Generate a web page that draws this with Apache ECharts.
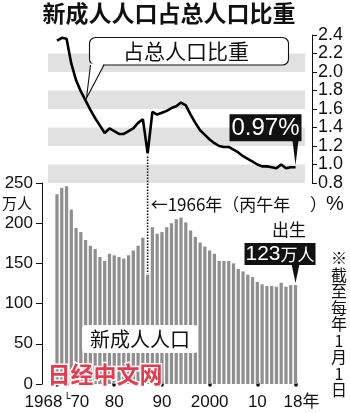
<!DOCTYPE html>
<html><head><meta charset="utf-8">
<script src="https://cdn.jsdelivr.net/npm/echarts@6/dist/echarts.min.js"></script>
<style>html,body{margin:0;padding:0;background:#fff}#c{width:350px;height:413px}</style>
</head><body><div id="c"></div>
<script>
// ---- data ----
const years = ['1968','1969','1970','1971','1972','1973','1974','1975','1976','1977','1978','1979',
  '1980','1981','1982','1983','1984','1985','1986','1987','1988','1989','1990','1991','1992','1993',
  '1994','1995','1996','1997','1998','1999','2000','2001','2002','2003','2004','2005','2006','2007',
  '2008','2009','2010','2011','2012','2013','2014','2015','2016','2017','2018'];
// 新成人人口 (万人)
const newAdults = [236,244,246,217,194,189,179,172,168,158,153,162,
  160,158,156,160,166,172,182,136,195,187,189,195,200,205,
  207,201,191,183,176,171,166,162,153,153,153,150,143,140,
  136,133,127,124,122,122,121,126,121,123,123];
// 占总人口比重 (%)
const share = [2.34,2.37,2.36,2.09,1.91,1.79,1.69,1.59,1.50,1.42,1.34,1.39,
  1.36,1.33,1.33,1.36,1.39,1.45,1.49,1.12,1.57,1.54,1.56,1.58,1.61,1.63,
  1.67,1.64,1.54,1.45,1.37,1.32,1.27,1.23,1.20,1.19,1.19,1.16,1.13,1.09,
  1.06,1.03,1.00,0.98,0.98,0.97,0.96,1.00,0.96,0.97,0.97];
const shareTicks = [0.8,2.4,0.2];     // min, max, step
const adultTicks = [0,250,50];
const labeledYears = {'1968':'1968','1970':'70','1980':'80','1990':'90','2000':'2000','2010':'10','2018':'18年'};
const hinoeumaYear = '1987';
// ---- chart ----
const NUM = 'Liberation Sans, Arial, Noto Sans CJK SC, sans-serif';
const CJK = 'Noto Sans CJK SC, Noto Sans CJK JP, sans-serif';
const chart = echarts.init(document.getElementById('c'), null, {renderer:'canvas'});
const lineData = years.map((y,i)=>[Number(y), share[i]]);
const showIdx = (i)=> labeledYears.hasOwnProperty(years[i]);
chart.setOption({
  animation:false,
  backgroundColor:'#fff',
  grid:[
    {left:48, right:45, top:35, height:148, outerBoundsMode:'none', containLabel:false},
    {left:54.6, right:52.1, top:183, height:201, outerBoundsMode:'none', containLabel:false}
  ],
  xAxis:[
    {type:'value', gridIndex:0, min:1966.11, max:2019.99, show:false},
    {type:'category', gridIndex:1, data:years, offset:4,
      axisLine:{show:false},
      axisTick:{show:true, alignWithLabel:true, length:1, interval:(i)=>showIdx(i),
        lineStyle:{color:'#111', width:3.5, cap:'round'}},
      axisLabel:{show:true, interval:(i)=>showIdx(i), margin:6, color:'#111', fontFamily:NUM, fontSize:17,
        formatter:(v)=>{
          if(v==='1968') return '{l|1968}';
          if(v==='1970') return '{b|└}{r|70}';
          if(v==='2018') return '{e|18年}';
          return labeledYears[v];
        },
        rich:{
          l:{fontFamily:NUM,fontSize:17,color:'#111',padding:[0,27,0,0]},
          b:{fontFamily:'DejaVu Sans',fontSize:11,color:'#111',padding:[0,0,0,20],verticalAlign:'top'},
          r:{fontFamily:NUM,fontSize:17,color:'#111'},
          e:{fontFamily:NUM,fontSize:17,color:'#111',padding:[0,0,0,12]}
        }
      }
    }
  ],
  yAxis:[
    {type:'value', gridIndex:0, position:'right', offset:7, min:shareTicks[0], max:shareTicks[1], interval:shareTicks[2],
      axisLine:{show:true, lineStyle:{color:'#111', width:1}},
      axisTick:{show:true, inside:false, length:5, lineStyle:{color:'#111', width:1}},
      axisLabel:{show:true, margin:6, color:'#111', fontFamily:NUM, fontSize:18, formatter:(v)=>v.toFixed(1)},
      splitLine:{show:false},
      splitArea:{show:true, areaStyle:{color:['#e1e1e1','rgba(255,255,255,0)']}}
    },
    {type:'value', gridIndex:1, position:'left', offset:12.6, min:adultTicks[0], max:adultTicks[1], interval:adultTicks[2],
      axisLine:{show:true, lineStyle:{color:'#111', width:1}},
      axisTick:{show:true, inside:false, length:6, lineStyle:{color:'#111', width:1}},
      axisLabel:{show:true, margin:9, color:'#111', fontFamily:NUM, fontSize:17},
      splitLine:{show:false}
    }
  ],
  series:[
    {type:'bar', xAxisIndex:1, yAxisIndex:1, data:newAdults, barWidth:'68%',
      itemStyle:{color:'#8f8f8f'}, z:2},
    {type:'line', xAxisIndex:0, yAxisIndex:0, data:lineData, showSymbol:false, symbol:'none',
      lineStyle:{color:'#000', width:2.6}, z:3}
  ]
});

// ---- annotations anchored to data ----
const lastShare = share[share.length-1];
const lastAdults = newAdults[newAdults.length-1];
const pL = chart.convertToPixel({xAxisIndex:0, yAxisIndex:0}, [Number(years[years.length-1]), lastShare]);
const pB = chart.convertToPixel({xAxisIndex:1, yAxisIndex:1}, [years[years.length-1], lastAdults]);
const hi = years.indexOf(hinoeumaYear);
const pDipL = chart.convertToPixel({xAxisIndex:0, yAxisIndex:0}, [Number(hinoeumaYear), share[hi]]);
const pDipB = chart.convertToPixel({xAxisIndex:1, yAxisIndex:1}, [hinoeumaYear, newAdults[hi]]);

const g = [];
// title
g.push({type:'text', left:null, x:169, y:13, style:{text:'新成人人口占总人口比重', font:'bold 23px '+CJK, fill:'#111', align:'center', verticalAlign:'middle'}, z:100});
// callout box
g.push({type:'rect', shape:{x:89.5, y:37.5, width:199, height:27.5, r:6}, style:{fill:'#fff', stroke:'#111', lineWidth:1.1}, z:100});
g.push({type:'polygon', shape:{points:[[90.5,63.5],[103.5,63.5],[87,97]]}, style:{fill:'#fff', stroke:null}, z:101});
g.push({type:'polyline', shape:{points:[[90.5,65],[86.5,98],[104,65]]}, style:{fill:null, stroke:'#111', lineWidth:1.1}, z:101});
g.push({type:'text', x:186, y:51.5, style:{text:'占总人口比重', font:'21px '+CJK, fill:'#111', align:'center', verticalAlign:'middle'}, z:102});
// 0.97% label
g.push({type:'rect', shape:{x:pL[0]-66, y:pL[1]-53, width:72, height:27}, style:{fill:'#111'}, z:100});
g.push({type:'polygon', shape:{points:[[pL[0]-3,pL[1]-27],[pL[0]+3,pL[1]-27],[pL[0],pL[1]-2]]}, style:{fill:'#111'}, z:100});
g.push({type:'text', x:pL[0]-30, y:pL[1]-39, style:{text:lastShare.toFixed(2)+'%', font:'24px '+NUM, fill:'#fff', align:'center', verticalAlign:'middle'}, z:101});
// 123万人 label
g.push({type:'rect', shape:{x:pB[0]-51, y:pB[1]-42, width:71, height:22}, style:{fill:'#111'}, z:100});
g.push({type:'polygon', shape:{points:[[pB[0]-4,pB[1]-21],[pB[0]+4,pB[1]-21],[pB[0],pB[1]-2]]}, style:{fill:'#111'}, z:100});
g.push({type:'text', x:pB[0]-15.5, y:pB[1]-31, style:{text:'{d|'+lastAdults+'}{c|万人}', align:'center', verticalAlign:'middle',
  rich:{d:{font:'21px '+NUM, fill:'#fff'}, c:{font:'17px '+CJK, fill:'#fff'}}}, z:101});
// dotted line for 1966 丙午
g.push({type:'line', shape:{x1:pDipB[0], y1:pDipL[1]+3, x2:pDipB[0], y2:pDipB[1]-1}, style:{stroke:'#111', lineWidth:1.6, lineDash:[1.5,1.5]}, z:100});
g.push({type:'text', x:pDipB[0]+3, y:205, style:{text:'←1966年（丙午年', font:'17px '+CJK, fill:'#111', align:'left', verticalAlign:'middle'}, z:100});
g.push({type:'text', x:310, y:205, style:{text:'）', font:'17px '+CJK, fill:'#111', align:'left', verticalAlign:'middle'}, z:100});
g.push({type:'text', x:289, y:230, style:{text:'出生', font:'17px '+CJK, fill:'#111', align:'center', verticalAlign:'middle'}, z:100});
// units
g.push({type:'text', x:335, y:204, style:{text:'%', font:'20px '+NUM, fill:'#111', align:'center', verticalAlign:'middle'}, z:100});
g.push({type:'text', x:17, y:203, style:{text:'万人', font:'15px '+CJK, fill:'#111', align:'center', verticalAlign:'middle'}, z:100});
// series box label
g.push({type:'rect', shape:{x:82, y:325, width:116, height:28, r:4}, style:{fill:'#fff'}, z:100});
g.push({type:'text', x:140, y:339.5, style:{text:'新成人人口', font:'20px '+CJK, fill:'#111', align:'center', verticalAlign:'middle'}, z:101});
// note
g.push({type:'text', x:339, y:250, style:{text:'※\n截\n至\n每\n年\n1\n月\n1\n日', font:'16px '+CJK, lineHeight:16.5, fill:'#111', align:'center', verticalAlign:'top'}, z:100});
// watermark
g.push({type:'text', x:105, y:374, style:{text:'日经中文网', font:'bold 23px '+CJK, fill:'#e8394d', stroke:'#fff', lineWidth:3, align:'center', verticalAlign:'middle'}, z:110});
chart.setOption({graphic:{elements:g}});
</script></body></html>
